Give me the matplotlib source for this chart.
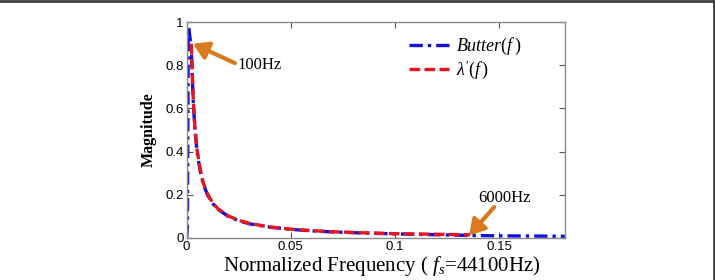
import numpy as np
import matplotlib
matplotlib.use('Agg')
import matplotlib.pyplot as plt
from matplotlib.lines import Line2D

fs = 44100.0

# red curve lambda'(f) (normalized freq, magnitude)
lam_x = [0.00227, 0.0027, 0.0032, 0.004, 0.005, 0.0065, 0.008, 0.01, 0.0125, 0.015,
         0.02, 0.025, 0.03, 0.04, 0.05, 0.06, 0.07, 0.085, 0.1, 0.115, 0.136]
lam_y = [0.90, 0.76, 0.64, 0.51, 0.41, 0.32, 0.255, 0.205, 0.163, 0.136,
         0.102, 0.082, 0.068, 0.051, 0.041, 0.034, 0.029, 0.024, 0.020, 0.018, 0.015]

# blue curve Butter(f)
but_x = [0.0, 0.0004, 0.0008, 0.0011, 0.0016, 0.00227, 0.0027, 0.0032, 0.004, 0.005,
         0.0065, 0.008, 0.01, 0.0125, 0.015, 0.02, 0.025, 0.03, 0.04, 0.05, 0.06,
         0.07, 0.085, 0.1, 0.115, 0.136, 0.15, 0.165, 0.1814]
but_y = [0.0, 0.05, 0.98, 0.97, 0.93, 0.88, 0.75, 0.63, 0.50, 0.40,
         0.31, 0.25, 0.20, 0.16, 0.133, 0.10, 0.080, 0.066, 0.050, 0.040, 0.033,
         0.028, 0.023, 0.019, 0.016, 0.012, 0.010, 0.009, 0.008]

xticks = [0, 0.05, 0.1, 0.15]
xticklabels = ['0', '0.05', '0.1', '0.15']
yticks = [0, 0.2, 0.4, 0.6, 0.8, 1]
yticklabels = ['0', '0.2', '0.4', '0.6', '0.8', '1']

serif = ['Liberation Serif', 'DejaVu Serif']
sans = ['Liberation Sans', 'DejaVu Sans']
plt.rcParams['mathtext.fontset'] = 'custom'
plt.rcParams['mathtext.rm'] = 'Liberation Serif'
plt.rcParams['mathtext.it'] = 'Liberation Serif:italic'

fig = plt.figure(figsize=(7.15, 2.8), dpi=100)
ax = fig.add_axes([0.261, 0.15, 0.529, 0.771])

orange = '#D97A1E'
ax.plot(but_x, but_y, color='#1010E0', lw=2.4, ls=(0, (4, 1.5, 1, 1.5)), label=r'$Butter(f\,)$')
ax.plot(lam_x, lam_y, color='#E8141E', lw=2.4, ls=(0, (3.2, 1.3)), label=r"$\lambda'(f\,)$")

ax.set_xlim(0, 8000 / fs)
ax.set_ylim(0, 1)
ax.set_xticks(xticks)
ax.set_xticklabels(xticklabels, family=sans, fontsize=9.5)
ax.set_yticks(yticks)
ax.set_yticklabels(yticklabels, family=sans, fontsize=9.5)
ax.tick_params(direction='in', top=True, right=True, length=4, width=0.8,
               color='#555555', pad=2)
for s in ax.spines.values():
    s.set_color('#8a8a8a')
    s.set_linewidth(1.0)

ax.set_xlabel(r'Normalized Frequency ( $f_s$=44100Hz)', family=serif, fontsize=15, labelpad=2)
ax.xaxis.set_label_coords(0.516, -0.075, transform=ax.transAxes)
ax.xaxis.label.set_va('top')
ax.set_ylabel('Magnitude', family=serif, fontsize=11.5, fontweight='bold', labelpad=6)

arrow = dict(arrowstyle='-|>,head_length=0.9,head_width=0.55', color=orange,
             lw=3, shrinkA=0, shrinkB=0)
ax.annotate('', xy=(0.003, 0.90), xytext=(0.0232, 0.81), arrowprops=arrow)
ax.text(0.0245, 0.80, '100Hz', family=serif, fontsize=12, va='center', ha='left')
ax.annotate('', xy=(0.1355, 0.012), xytext=(0.1475, 0.143), arrowprops=arrow)
ax.text(0.1525, 0.15, '6000Hz', family=serif, fontsize=12, va='bottom', ha='center')

leg = ax.legend(loc='upper left', bbox_to_anchor=(0.546, 1.01), frameon=False,
                prop={'family': serif, 'size': 13}, handlelength=2.2, handletextpad=0.4,
                labelspacing=0.08)

# figure border (top and right edge as in the source image)
fig.add_artist(Line2D([0, 1], [0.997, 0.997], color='#404040', lw=2, transform=fig.transFigure))
fig.add_artist(Line2D([0.998, 0.998], [0, 1], color='#404040', lw=2, transform=fig.transFigure))

fig.savefig('out.png', dpi=100)
